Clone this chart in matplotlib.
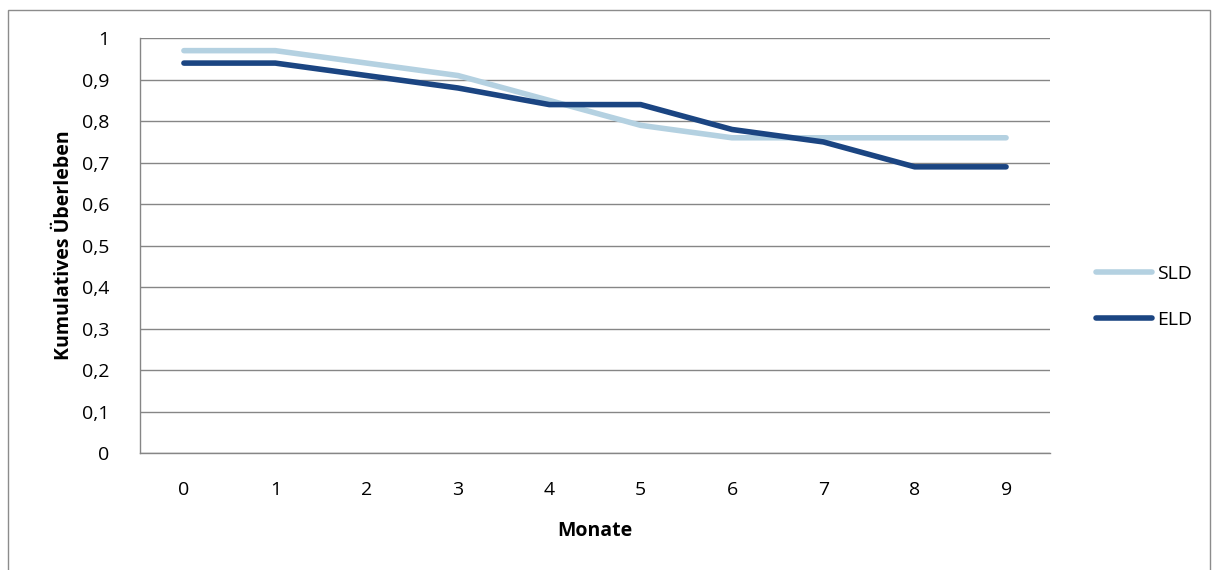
import matplotlib.pyplot as plt
from matplotlib.patches import Rectangle
import numpy as np

# %%
monate = [0, 1, 2, 3, 4, 5, 6, 7, 8, 9]
sld = [0.97, 0.97, 0.94, 0.91, 0.85, 0.79, 0.76, 0.76, 0.76, 0.76]
eld = [0.94, 0.94, 0.91, 0.88, 0.84, 0.84, 0.78, 0.75, 0.69, 0.69]
y_ticks = [0, 0.1, 0.2, 0.3, 0.4, 0.5, 0.6, 0.7, 0.8, 0.9, 1]
y_labels = ['0', '0,1', '0,2', '0,3', '0,4', '0,5', '0,6', '0,7', '0,8', '0,9', '1']

plt.rcParams['font.family'] = ['Open Sans', 'DejaVu Sans']

fig = plt.figure(figsize=(12.18, 5.70), dpi=100)
ax = fig.add_axes([0.115, 0.205, 0.747, 0.728])

# outer chart border
fig.patches.append(Rectangle((8 / 1218, -0.05), 1202 / 1218, 1 - 10 / 570 + 0.05,
                             transform=fig.transFigure, fill=False,
                             edgecolor='#8c8c8c', linewidth=1))

ax.plot(monate, sld, color='#B4D1E1', linewidth=4, solid_capstyle='round',
        solid_joinstyle='round', label='SLD')
ax.plot(monate, eld, color='#1B4582', linewidth=4, solid_capstyle='round',
        solid_joinstyle='round', label='ELD')

ax.set_xlim(-0.48, 9.48)
ax.set_ylim(0, 1)
ax.set_xticks(monate)
ax.set_yticks(y_ticks)
ax.set_yticklabels(y_labels)
ax.tick_params(length=0, labelsize=14)
ax.tick_params(axis='x', pad=20)
ax.tick_params(axis='y', pad=22)
ax.grid(axis='y', color='#868686', linewidth=1)
ax.set_axisbelow(True)
for s in ['top', 'right']:
    ax.spines[s].set_visible(False)
for s in ['left', 'bottom']:
    ax.spines[s].set_color('#868686')
    ax.spines[s].set_linewidth(1)

ax.set_xlabel('Monate', fontsize=14, fontweight='bold', labelpad=16)
ax.set_ylabel('Kumulatives Überleben', fontsize=14, fontweight='bold', labelpad=6)

ax.legend(loc='center left', bbox_to_anchor=(1078 / 1218, 273 / 570),
          bbox_transform=fig.transFigure, frameon=False, fontsize=14,
          handlelength=2.9, handletextpad=0.25, labelspacing=1.45)

fig.savefig('out.png', dpi=100)
